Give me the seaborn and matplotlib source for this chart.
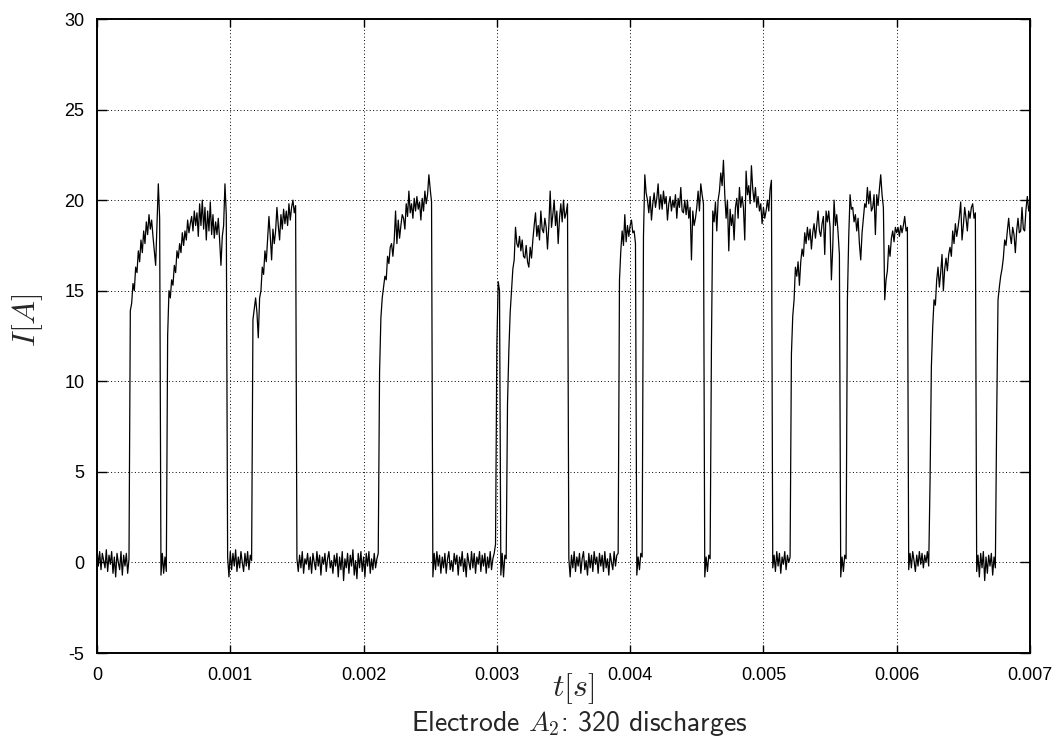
import numpy as np
import pandas as pd
import matplotlib
matplotlib.use("Agg")
import matplotlib.pyplot as plt
import seaborn as sns

# Sampling interval of the recorded trace (seconds)
dt = 1e-5

# Current I [A], one value per 10 microseconds (0 ... 7 ms)
current = [
    0.8, -0.2, 0.6, -0.4, 0.5, 0.1, -0.3, 0.7, -0.5, 0.4,
    -0.1, 0.6, -0.6, 0.3, -0.8, 0.5, 0.0, -0.4, 0.6, -0.7,
    0.4, -0.2, 0.5, -0.6, 0.2, 13.9, 14.3, 15.4, 15.0, 16.3,
    16.0, 17.2, 16.6, 17.8, 17.1, 18.3, 17.6, 18.8, 18.1, 19.2,
    18.4, 18.9, 18.0, 17.2, 16.4, 18.6, 20.9, 19.0, -0.7, 0.5,
    -0.6, 0.3, -0.5, 12.5, 15.0, 14.6, 15.6, 15.3, 16.4, 16.0,
    17.2, 16.8, 17.6, 17.1, 18.2, 17.5, 18.3, 17.8, 18.9, 18.2,
    18.7, 19.1, 18.3, 19.4, 18.6, 19.3, 18.0, 19.8, 18.6, 20.0,
    18.4, 19.6, 17.8, 19.4, 18.3, 19.9, 18.1, 19.2, 17.9, 18.8,
    18.1, 19.0, 17.8, 16.4, 18.0, 18.6, 20.9, 19.2, 0.3, -0.8,
    0.6, -0.4, 0.5, -0.2, 0.7, -0.5, 0.3, -0.3, 0.6, 0.0,
    -0.5, 0.5, -0.2, 0.6, -0.4, 0.4, 0.1, 13.4, 14.0, 14.6,
    13.8, 12.4, 14.6, 15.0, 16.3, 15.9, 17.2, 16.6, 17.8, 19.1,
    18.0, 16.7, 18.4, 17.6, 18.3, 19.6, 18.6, 17.8, 19.2, 18.4,
    19.5, 18.7, 19.4, 18.6, 19.8, 18.9, 19.6, 20.0, 19.3, 19.7,
    0.2, -0.5, 0.4, -0.3, 0.6, -0.6, 0.2, -0.1, 0.5, -0.4,
    0.3, -0.6, 0.5, 0.0, -0.4, 0.6, -0.2, 0.4, -0.7, 0.3,
    -0.1, 0.5, -0.5, 0.2, 0.6, -0.3, 0.1, -0.6, 0.4, -0.2,
    0.5, -0.8, 0.3, -0.4, 0.6, -1.0, 0.2, -0.3, 0.5, -0.6,
    0.4, -0.2, 0.7, -0.7, 0.1, -0.9, 0.5, -0.3, 0.6, -0.5,
    0.3, -0.8, 0.5, -0.2, 0.6, -0.6, 0.2, -0.4, 0.5, -0.3,
    0.2, 0.5, 10.5, 13.5, 14.6, 15.2, 15.8, 15.6, 16.9, 16.5,
    17.4, 17.6, 16.9, 17.8, 19.4, 17.6, 18.9, 17.9, 18.6, 19.2,
    19.0, 18.4, 19.8, 19.1, 20.5, 19.3, 19.8, 19.0, 20.1, 19.4,
    20.2, 19.5, 19.9, 18.9, 20.1, 19.4, 20.5, 19.8, 20.3, 21.4,
    20.6, 19.9, -0.8, 0.5, -0.4, 0.6, -0.2, 0.4, -0.6, 0.3,
    -0.3, 0.5, -0.6, 0.2, 0.6, -0.4, 0.1, -0.5, 0.5, -0.1,
    0.4, -0.7, 0.3, -0.2, 0.6, -0.5, 0.2, -0.8, 0.5, 0.0,
    -0.4, 0.6, -0.3, 0.5, -0.6, 0.3, -0.1, 0.6, -0.5, 0.4,
    -0.2, 0.5, -0.6, 0.3, -0.3, 0.6, -0.4, 0.2, 0.5, 1.0,
    12.0, 15.5, 15.0, -0.7, 0.5, -0.8, 0.4, 0.2, 8.8, 11.7,
    13.8, 15.0, 16.2, 16.7, 18.5, 17.6, 17.4, 18.0, 17.2, 17.8,
    16.9, 16.8, 17.5, 16.6, 16.3, 17.4, 16.8, 17.8, 18.6, 19.3,
    18.0, 18.6, 17.8, 19.4, 18.4, 18.2, 19.0, 18.5, 17.3, 18.6,
    20.5, 18.5, 19.2, 20.0, 18.6, 19.4, 17.6, 19.0, 19.8, 18.8,
    20.0, 19.0, 19.3, 19.8, 0.2, -0.8, 0.4, -0.3, 0.6, -0.5,
    0.3, -0.2, 0.5, -0.6, 0.2, 0.6, -0.4, 0.1, -0.7, 0.5,
    -0.3, 0.4, -0.5, 0.6, -0.1, 0.3, -0.6, 0.5, -0.2, 0.4,
    -0.5, 0.6, -0.3, 0.2, -0.7, 0.5, 0.0, -0.4, 0.6, -0.2,
    0.4, 0.5, 15.6, 17.2, 18.3, 17.5, 19.2, 17.7, 18.6, 18.0,
    18.6, 18.9, 18.2, 18.3, 17.6, -0.7, 0.3, -0.4, 0.5, 0.3,
    18.0, 21.4, 20.4, 20.0, 19.3, 20.2, 18.9, 19.8, 20.4, 19.6,
    20.1, 20.9, 19.5, 20.3, 19.5, 20.5, 19.8, 20.2, 18.9, 19.8,
    20.2, 19.4, 20.0, 19.6, 20.3, 19.0, 20.1, 19.6, 20.7, 19.4,
    19.3, 20.0, 19.2, 20.0, 19.0, 19.6, 16.7, 19.4, 18.6, 19.0,
    19.6, 20.5, 19.4, 20.9, 20.3, 19.8, -0.8, 0.3, -0.5, 0.4,
    0.2, 12.0, 19.4, 18.8, 19.9, 18.3, 20.0, 20.5, 21.5, 20.8,
    22.2, 20.3, 19.0, 20.0, 17.2, 19.5, 18.6, 19.2, 17.8, 19.6,
    20.1, 19.0, 20.7, 19.6, 20.2, 19.6, 17.8, 21.6, 20.3, 20.8,
    19.8, 21.9, 20.6, 19.9, 20.7, 19.6, 20.2, 19.4, 19.8, 18.7,
    19.6, 19.0, 19.4, 20.0, 19.4, 20.6, 21.1, -0.3, 0.4, -0.5,
    0.6, -0.2, 0.5, -0.6, 0.3, -0.1, 0.6, -0.4, 0.4, 0.0,
    0.3, 11.5, 13.6, 14.5, 16.3, 15.8, 16.6, 15.3, 16.6, 17.3,
    16.9, 18.2, 17.6, 18.5, 17.8, 18.4, 17.3, 18.2, 18.7, 17.9,
    18.6, 19.4, 18.3, 18.0, 18.7, 19.1, 17.0, 19.4, 18.8, 19.4,
    18.5, 15.6, 17.4, 20.0, 18.6, 19.2, 18.2, 17.0, -0.8, 0.3,
    -0.5, 0.4, 0.2, 14.5, 18.0, 20.3, 19.5, 19.6, 18.8, 19.2,
    18.3, 19.0, 17.6, 16.7, 18.2, 19.0, 19.8, 19.6, 20.7, 19.8,
    20.5, 19.4, 19.6, 20.3, 18.1, 20.3, 19.7, 20.6, 21.4, 20.3,
    19.6, 14.5, 15.6, 16.1, 17.5, 16.9, 17.9, 18.3, 17.7, 18.5,
    18.2, 18.5, 18.0, 18.6, 18.2, 18.6, 19.1, 18.3, 18.5, -0.4,
    0.5, -0.3, 0.6, 0.1, -0.5, 0.4, -0.2, 0.6, -0.1, 0.5,
    -0.3, 0.4, 0.0, 0.6, -0.2, 4.4, 10.8, 13.0, 14.5, 14.2,
    15.6, 16.3, 15.2, 16.0, 17.0, 15.0, 16.2, 16.8, 16.1, 17.0,
    17.4, 16.9, 18.3, 17.6, 18.7, 18.0, 18.5, 19.1, 19.9, 17.8,
    18.6, 19.6, 19.0, 18.3, 19.4, 19.0, 19.6, 19.8, 19.0, 19.3,
    -0.5, 0.4, -0.8, 0.5, -0.3, 0.6, -1.0, 0.3, -0.6, 0.4,
    -0.2, 0.5, -0.7, 0.3, -0.3, 8.0, 14.5, 15.2, 15.8, 16.2,
    16.8, 17.8, 17.5, 18.3, 19.0, 18.1, 17.6, 18.5, 18.1, 17.1,
    18.3, 19.0, 18.2, 18.3, 19.6, 18.4, 18.3, 19.5, 20.2, 19.4,
    19.8,
]

x_ticks = [0, 0.001, 0.002, 0.003, 0.004, 0.005, 0.006, 0.007]
x_tick_labels = ["0", "0.001", "0.002", "0.003", "0.004", "0.005", "0.006", "0.007"]
y_ticks = [-5, 0, 5, 10, 15, 20, 25, 30]
y_tick_labels = ["-5", "0", "5", "10", "15", "20", "25", "30"]

x_label = r"$t[s]$"
y_label = r"$I[A]$"
caption = r"Electrode $A_2$: 320 discharges"

time = np.arange(len(current)) * dt
df = pd.DataFrame({"t": time, "I": current})

sns.set_theme(style="white")
plt.rcParams["font.family"] = ["Liberation Sans", "DejaVu Sans"]
plt.rcParams["mathtext.fontset"] = "cm"
plt.rcParams["axes.unicode_minus"] = False

W, H = 1058, 750
fig = plt.figure(figsize=(W / 100, H / 100), dpi=100)
ax = fig.add_axes([97 / W, 97 / H, 933 / W, 634 / H])

sns.lineplot(data=df, x="t", y="I", ax=ax, color="black", linewidth=0.9,
             estimator=None, sort=False, legend=False)

ax.set_xlim(0, 0.007)
ax.set_ylim(-5, 30)
ax.set_xticks(x_ticks)
ax.set_xticklabels(x_tick_labels)
ax.set_yticks(y_ticks)
ax.set_yticklabels(y_tick_labels)
ax.set_xlabel("")
ax.set_ylabel("")

ax.grid(True, color="black", linestyle=(0, (1, 2.5)), linewidth=0.7)
for s in ax.spines.values():
    s.set_color("black")
    s.set_linewidth(1.4)
    s.set_visible(True)

ax.tick_params(axis="x", which="major", direction="in", length=6, width=1.0,
               top=True, bottom=True, labelsize=13, pad=10, colors="black")
ax.tick_params(axis="y", which="major", direction="in", length=7, width=1.0,
               left=True, right=True, labelsize=13, pad=9, colors="black")

fig.text(573 / W, 1 - 689 / H, x_label, ha="center", va="center", fontsize=23)
fig.text(28 / W, 1 - 320 / H, y_label, ha="center", va="center", fontsize=23,
         rotation=90)
fig.text(579 / W, 1 - 724 / H, caption, ha="center", va="center", fontsize=20,
         family=["cmss10", "DejaVu Sans"])

fig.savefig("out.png", dpi=100)
